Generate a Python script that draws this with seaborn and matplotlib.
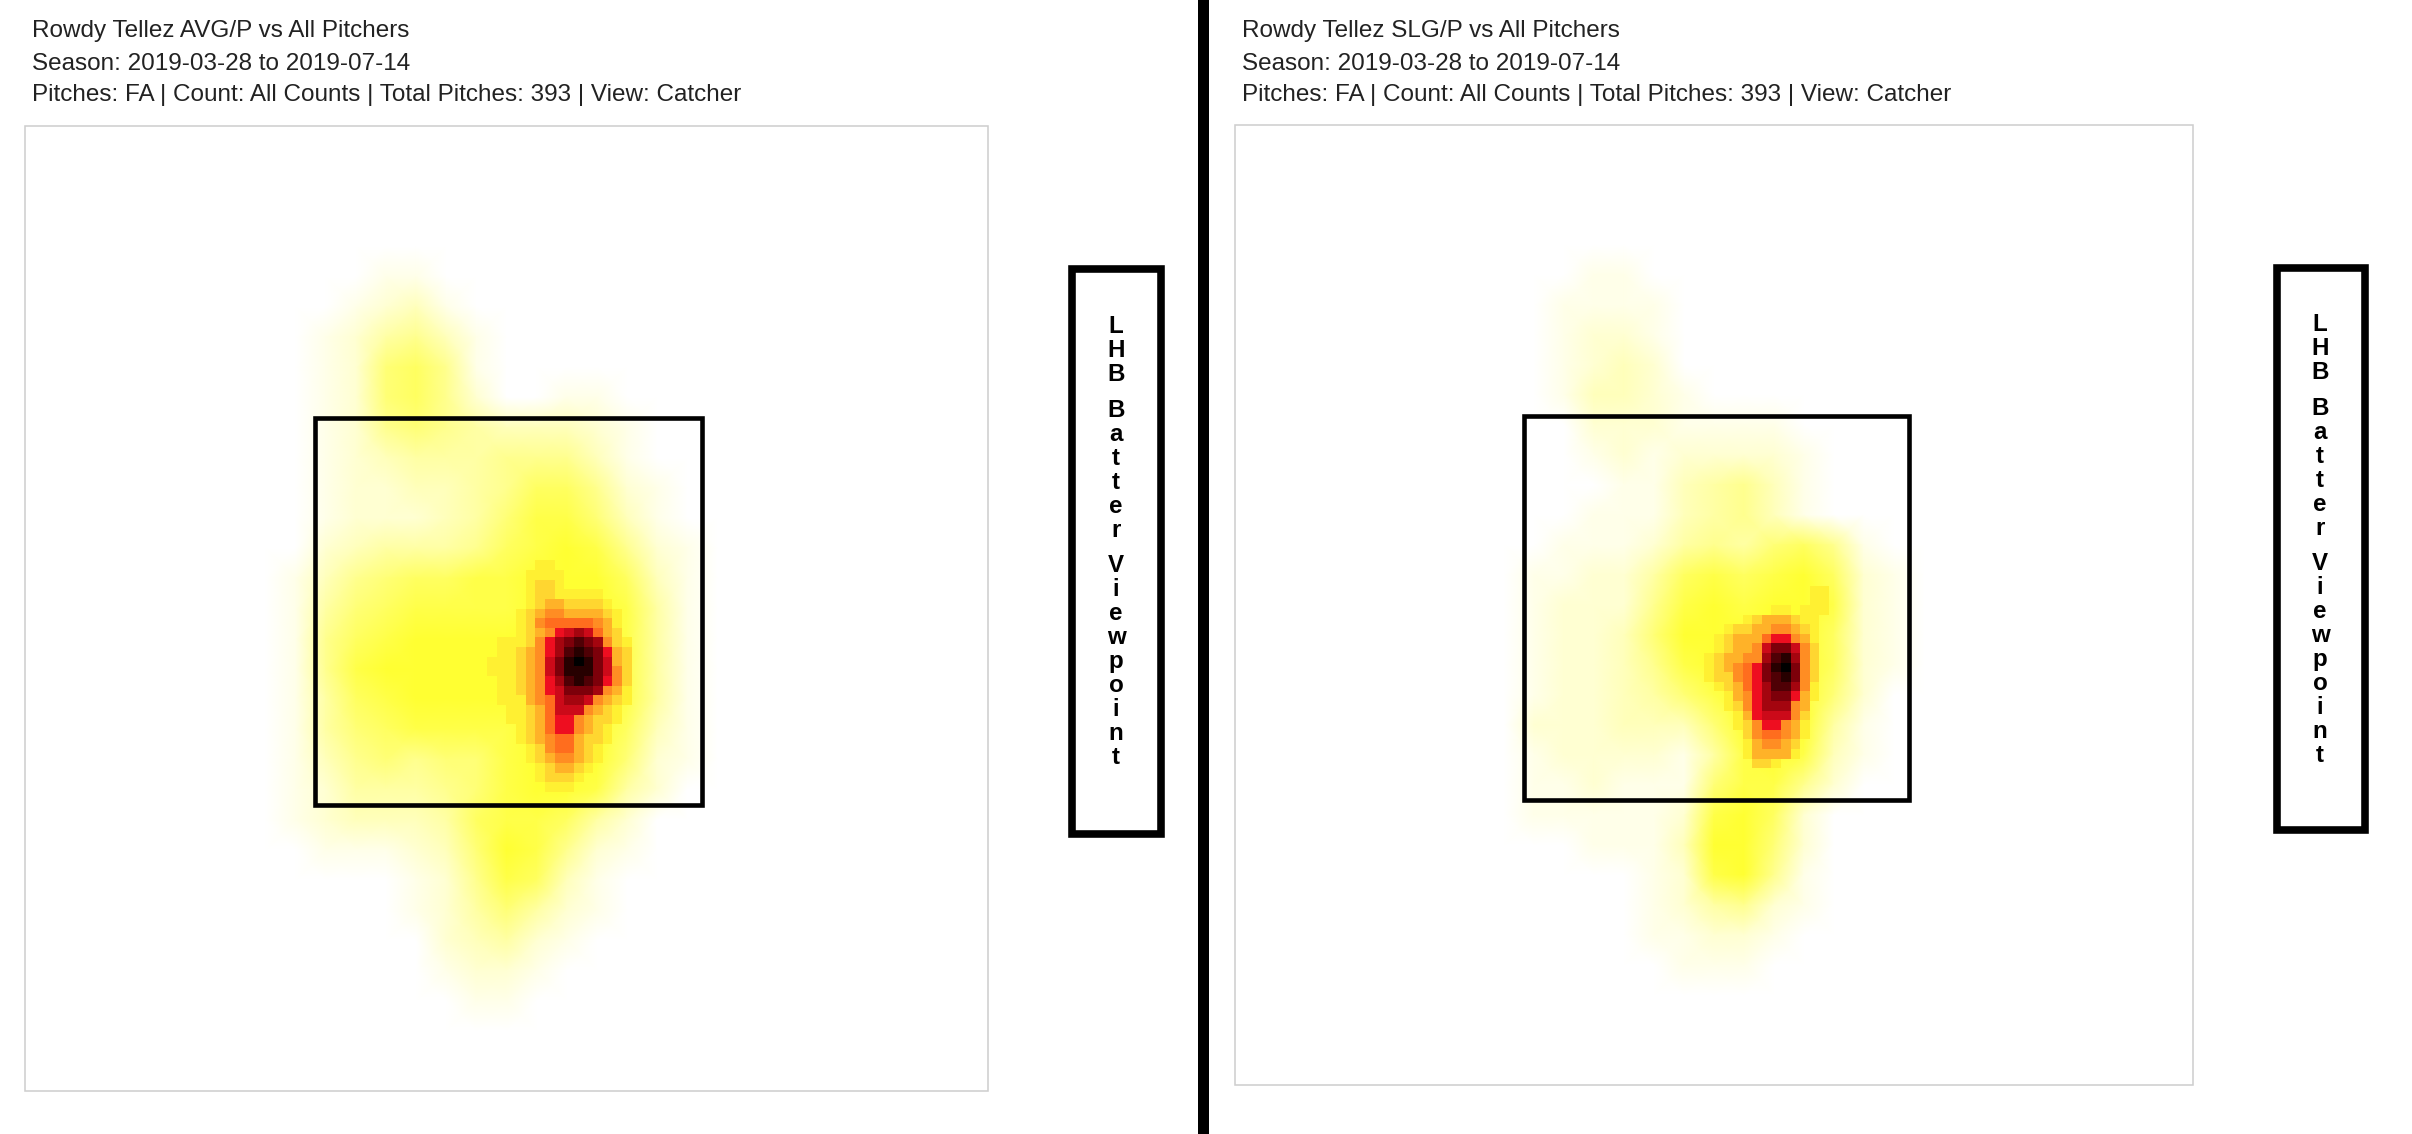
import numpy as np
import pandas as pd
import matplotlib
matplotlib.use("Agg")
import matplotlib.pyplot as plt
from matplotlib.colors import LinearSegmentedColormap
from matplotlib.patches import Rectangle
import seaborn as sns

W, H = 2412, 1134

AVG_TITLE = ["Rowdy Tellez AVG/P vs All Pitchers",
             "Season: 2019-03-28 to 2019-07-14",
             "Pitches: FA | Count: All Counts | Total Pitches: 393 | View: Catcher"]
SLG_TITLE = ["Rowdy Tellez SLG/P vs All Pitchers",
             "Season: 2019-03-28 to 2019-07-14",
             "Pitches: FA | Count: All Counts | Total Pitches: 393 | View: Catcher"]
SIDE_LABEL = "LHB Batter Viewpoint"

# Wash levels 0-9 (white to yellow), read every 3.33 cells; rows start at row 4, columns at col 7
AVG_WASH = [
    "00000000000000000000", "00000110000000000000", "00001231000000000000", "00012453100000000000",
    "00012675100000000000", "00012675200110000000", "00012565433321000000", "00012344455531000000",
    "00012233457752100000", "00012223468863100000", "00023444578985210000", "00135677889997310000",
    "00146788889998410000", "00157899999998410000", "00158999999998410000", "00147899999998410000",
    "00146788889997310000", "00135656689996210000", "00124445689984200000", "00123334788742000000",
    "00011123698521000000", "00000012587310000000", "00000012464210000000", "00000002342100000000",
    "00000001221000000000", "00000000110000000000",
]
SLG_WASH = [
    "00000000000000000000", "00000110000000000000", "00001111000000000000", "00001221000000000000",
    "00001232000000000000", "00001332100000000000", "00000222111100000000", "00000121222210000000",
    "00000011345310000000", "00000111345310000000", "00001112454675100000", "00011224787897210000",
    "00012225898998210000", "00012236999997210000", "00012235899997210000", "00012234689996200000",
    "00022233369994100000", "00012222148983100000", "00011211168852000000", "00011111289720000000",
    "00000111399620000000", "00000001289510000000", "00000001245210000000", "00000001122100000000",
    "00000000111000000000",
]
# Hot-spot levels a-l (gold to black) per heat cell; '.' leaves the wash showing
AVG_CORE = [
    ".....aa........", "....aaaa.......", "....abba.......", "....abbaaaaa...",
    "....abccbbbba..", "...abcddccccba.", "...abdeeeeedca.", "...abcdfghgecb.",
    ".aaabdfhijihdba", ".aabcdfhjkjifcb", "aaabcdgiklkigcb", "aaabcdgikkkigdb",
    ".aabcdfhjkjifdb", ".aabcdfgiiihdca", ".aaacdeghhgdcba", "..aabcegggdcba.",
    "..aabceffdcbba.", "...abceffdcba..", "...abcdeecbba..", "....abdeecba...",
    "....abcddcba...", ".....abccba....", ".....abbba.....", "......aaa......",
]
SLG_CORE = [
    "...........aa", "...........aa", ".......aa.aaa", "....abcccbaa.",
    "..abbccddcba.", ".abccceffdca.", ".abccdgiigdb.", "abccddhjkhdb.",
    "abcdefiklidb.", "abbdefijkidb.", ".abcefhjjhda.", "..acdfhiifca.",
    "..abdfhhhdc..", "...acfgggdb..", "...abdffdca..", "....bdeedca..",
    "....acddcb...", "....acccca...", ".....bba.....",
]
AVG_CORE_ORIGIN = (45, 48)
SLG_CORE_ORIGIN = (48, 49)
WASH_ORIGIN_AVG = (4, 7)
WASH_ORIGIN_SLG = (4, 7)

STOPS = [(0, (255, 255, 255)), (9, (255, 255, 50)), (10, (255, 240, 50)), (11, (255, 215, 48)),
         (12, (255, 178, 40)), (13, (255, 140, 35)), (14, (255, 110, 30)), (15, (238, 14, 32)),
         (16, (205, 10, 25)), (17, (165, 5, 15)), (18, (125, 0, 10)), (19, (80, 0, 5)),
         (20, (40, 0, 0)), (21, (0, 0, 0))]
cmap = LinearSegmentedColormap.from_list(
    "heat", [(v / 21, tuple(c / 255 for c in rgb)) for v, rgb in STOPS], N=512)

sns.set_theme(style="white")
plt.rcParams["font.family"] = ["Liberation Sans", "DejaVu Sans"]

fig = plt.figure(figsize=(W / 100, H / 100), dpi=100, facecolor="white")


def px_axes(x0, y0, x1, y1, zorder):
    ax = fig.add_axes([x0 / W, 1 - y1 / H, (x1 - x0) / W, (y1 - y0) / H], zorder=zorder)
    ax.patch.set_alpha(0)
    return ax


def expand(rows, origin, size):
    grid = np.zeros((size, size))
    grid[:] = np.nan
    for i, row in enumerate(rows):
        for j, ch in enumerate(row):
            if ch != ".":
                grid[origin[0] + i, origin[1] + j] = int(ch, 36)
    return pd.DataFrame(grid)


def draw_panel(box, wash, wash_origin, core, core_origin):
    x0, y0, x1, y1 = box
    ax = px_axes(x0, y0, x1, y1, 1)
    wash_df = expand(wash, wash_origin, 33).fillna(0)
    sns.heatmap(wash_df, ax=ax, cmap=cmap, vmin=0, vmax=21, cbar=False,
                xticklabels=False, yticklabels=False, shading="gouraud")
    ax.set_xlim(0, 32)
    ax.set_ylim(32, 0)
    ax.axis("off")

    ax2 = px_axes(x0, y0, x1, y1, 2)
    core_df = expand(core, core_origin, 100)
    sns.heatmap(core_df, ax=ax2, cmap=cmap, vmin=0, vmax=21, cbar=False,
                mask=core_df.isna(), xticklabels=False, yticklabels=False,
                linewidths=0, antialiased=False)
    ax2.axis("off")


draw_panel((25, 126, 988, 1091), AVG_WASH, WASH_ORIGIN_AVG, AVG_CORE, AVG_CORE_ORIGIN)
draw_panel((1235, 125, 2193, 1085), SLG_WASH, WASH_ORIGIN_SLG, SLG_CORE, SLG_CORE_ORIGIN)

# Overlay in pixel coordinates for frames and labels
ov = fig.add_axes([0, 0, 1, 1], zorder=5)
ov.set_xlim(0, W)
ov.set_ylim(H, 0)
ov.axis("off")
ov.patch.set_alpha(0)


def frame(x0, y0, x1, y1, lw_px, color):
    ov.add_patch(Rectangle((x0 + lw_px / 2, y0 + lw_px / 2), x1 - x0 - lw_px, y1 - y0 - lw_px,
                           fill=False, edgecolor=color, linewidth=lw_px * 0.72, joinstyle="miter"))


frame(24, 125, 989, 1092, 1.6, "#cfcfcf")
frame(1234, 124, 2194, 1086, 1.6, "#cfcfcf")
frame(313, 416, 704, 807, 4.6, "black")
frame(1522, 414, 1911, 802, 4.6, "black")
frame(1068, 265, 1165, 838, 7.6, "black")
frame(2273, 264, 2369, 834, 7.6, "black")
ov.add_patch(Rectangle((1198, 0), 11, H, facecolor="black", edgecolor="none"))


def title(lines, x):
    for line, y in zip(lines, (31.5, 63.5, 95.5)):
        ov.text(x, y, line, fontsize=17.45, color="#222222", ha="left", va="center")


title(AVG_TITLE, 32)
title(SLG_TITLE, 1242)


def side(text, x, baseline):
    y = baseline
    for ch in text:
        if ch == " ":
            y += 11.7
            continue
        ov.text(x, y, ch, fontsize=17.4, fontweight="bold", color="black",
                ha="center", va="baseline")
        y += 24


side(SIDE_LABEL, 1116, 333)
side(SIDE_LABEL, 2320, 331)

fig.savefig("out.png", dpi=100, facecolor="white")
